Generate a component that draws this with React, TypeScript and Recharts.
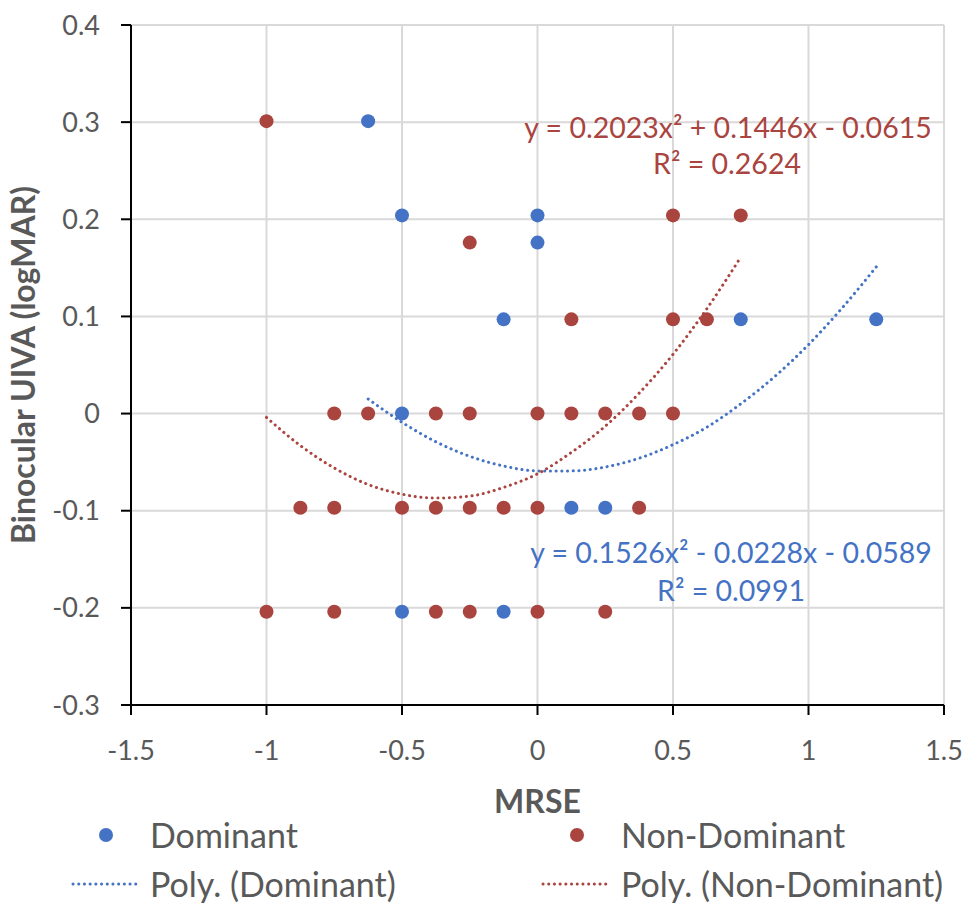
import { ScatterChart, Scatter, XAxis, YAxis, CartesianGrid, Label } from 'recharts'

// logMAR values come from Snellen steps (20/40, 20/32, 20/30, 20/25 ...)
const dominant = [
  { x: -0.625, y: 0.301 },
  { x: -0.5, y: 0.204 },
  { x: 0, y: 0.204 },
  { x: 0, y: 0.176 },
  { x: -0.125, y: 0.097 },
  { x: 0.75, y: 0.097 },
  { x: 1.25, y: 0.097 },
  { x: -0.5, y: 0 },
  { x: 0.125, y: -0.097 },
  { x: 0.25, y: -0.097 },
  { x: -0.5, y: -0.204 },
  { x: -0.125, y: -0.204 },
]

const nonDominant = [
  { x: -1, y: 0.301 },
  { x: -0.25, y: 0.176 },
  { x: 0.5, y: 0.204 },
  { x: 0.75, y: 0.204 },
  { x: 0.125, y: 0.097 },
  { x: 0.5, y: 0.097 },
  { x: 0.625, y: 0.097 },
  { x: -0.75, y: 0 },
  { x: -0.625, y: 0 },
  { x: -0.375, y: 0 },
  { x: -0.25, y: 0 },
  { x: 0, y: 0 },
  { x: 0.125, y: 0 },
  { x: 0.25, y: 0 },
  { x: 0.375, y: 0 },
  { x: 0.5, y: 0 },
  { x: -0.875, y: -0.097 },
  { x: -0.75, y: -0.097 },
  { x: -0.5, y: -0.097 },
  { x: -0.375, y: -0.097 },
  { x: -0.25, y: -0.097 },
  { x: -0.125, y: -0.097 },
  { x: 0, y: -0.097 },
  { x: 0.375, y: -0.097 },
  { x: -1, y: -0.204 },
  { x: -0.75, y: -0.204 },
  { x: -0.375, y: -0.204 },
  { x: -0.25, y: -0.204 },
  { x: 0, y: -0.204 },
  { x: 0.25, y: -0.204 },
]

// trendline points (match the printed equations)
const dominantTrend = [
  { x: -0.625, y: 0.015 },
  { x: -0.5, y: -0.009 },
  { x: -0.375, y: -0.029 },
  { x: -0.25, y: -0.044 },
  { x: -0.125, y: -0.054 },
  { x: 0, y: -0.059 },
  { x: 0.125, y: -0.059 },
  { x: 0.25, y: -0.055 },
  { x: 0.375, y: -0.046 },
  { x: 0.5, y: -0.032 },
  { x: 0.625, y: -0.014 },
  { x: 0.75, y: 0.01 },
  { x: 0.875, y: 0.038 },
  { x: 1, y: 0.071 },
  { x: 1.125, y: 0.109 },
  { x: 1.25, y: 0.151 },
]

const nonDominantTrend = [
  { x: -1, y: -0.004 },
  { x: -0.875, y: -0.033 },
  { x: -0.75, y: -0.056 },
  { x: -0.625, y: -0.073 },
  { x: -0.5, y: -0.083 },
  { x: -0.375, y: -0.087 },
  { x: -0.25, y: -0.085 },
  { x: -0.125, y: -0.076 },
  { x: 0, y: -0.062 },
  { x: 0.125, y: -0.04 },
  { x: 0.25, y: -0.013 },
  { x: 0.375, y: 0.021 },
  { x: 0.5, y: 0.061 },
  { x: 0.625, y: 0.108 },
  { x: 0.75, y: 0.161 },
]

const xTicks = [-1.5, -1, -0.5, 0, 0.5, 1, 1.5]
const yTicks = [-0.3, -0.2, -0.1, 0, 0.1, 0.2, 0.3, 0.4]

const BLUE = '#4472C4'
const RED = '#A9443F'
const TEXT = '#595959'
const FONT = 'Lato, sans-serif'

const dot = (color: string) => (props: any) => <circle cx={props.cx} cy={props.cy} r={7} fill={color} />
const noDot = () => <g />

const dotted = (color: string) => ({
  stroke: color,
  strokeWidth: 3,
  strokeDasharray: '0.1 5.6',
  strokeLinecap: 'round' as const,
})

function LegendRow({ top, left, marker, text }: { top: number; left: number; marker: any; text: string }) {
  return (
    <div style={{ position: 'absolute', top, left, height: 36, lineHeight: '36px', display: 'flex', alignItems: 'center', color: TEXT, fontSize: 34, whiteSpace: 'nowrap' }}>
      {marker}
      <span>{text}</span>
    </div>
  )
}

export default function App() {
  const eq = { position: 'absolute' as const, transform: 'translate(-50%, -50%)', fontSize: 28.5, whiteSpace: 'nowrap' as const }
  return (
    <div style={{ position: 'absolute', left: 0, top: 0, width: 966, height: 905, background: '#fff', fontFamily: FONT, overflow: 'hidden' }}>
      <ScatterChart width={966} height={905} margin={{ top: 25, right: 22, bottom: 0, left: 0 }}>
        <CartesianGrid stroke="#d9d9d9" strokeWidth={2} />
        <XAxis
          type="number"
          dataKey="x"
          domain={[-1.5, 1.5]}
          ticks={xTicks}
          height={200}
          tickSize={10}
          tickMargin={26}
          axisLine={{ stroke: '#000', strokeWidth: 2 }}
          tickLine={{ stroke: '#000', strokeWidth: 2 }}
          tick={{ fill: TEXT, fontSize: 27, fontFamily: FONT }}
          label={
            <Label
              content={({ viewBox }: any) => (
                <text x={viewBox.x + viewBox.width / 2} y={viewBox.y + 95} textAnchor="middle" dominantBaseline="central" fill={TEXT} fontSize={32} fontWeight="bold" fontFamily={FONT}>
                  MRSE
                </text>
              )}
            />
          }
        />
        <YAxis
          type="number"
          dataKey="y"
          domain={[-0.3, 0.4]}
          ticks={yTicks}
          width={131}
          tickSize={10}
          tickMargin={21}
          axisLine={{ stroke: '#000', strokeWidth: 2 }}
          tickLine={{ stroke: '#000', strokeWidth: 2 }}
          tick={{ fill: TEXT, fontSize: 27, fontFamily: FONT }}
          label={
            <Label
              content={({ viewBox }: any) => {
                const cy = viewBox.y + viewBox.height / 2
                return (
                  <text x={22} y={cy} transform={`rotate(-90, 22, ${cy})`} textAnchor="middle" dominantBaseline="central" fill={TEXT} fontSize={32} fontWeight="bold" fontFamily={FONT}>
                    Binocular UIVA (logMAR)
                  </text>
                )
              }}
            />
          }
        />
        <Scatter name="Dominant" data={dominant} fill={BLUE} shape={dot(BLUE)} isAnimationActive={false} />
        <Scatter name="Non-Dominant" data={nonDominant} fill={RED} shape={dot(RED)} isAnimationActive={false} />
        <Scatter name="Poly. (Dominant)" data={dominantTrend} fill={BLUE} shape={noDot} line={dotted(BLUE)} lineJointType="monotoneX" isAnimationActive={false} />
        <Scatter name="Poly. (Non-Dominant)" data={nonDominantTrend} fill={RED} shape={noDot} line={dotted(RED)} lineJointType="monotoneX" isAnimationActive={false} />
      </ScatterChart>

      <div style={{ ...eq, left: 728, top: 127, color: RED }}>y = 0.2023x² + 0.1446x - 0.0615</div>
      <div style={{ ...eq, left: 727, top: 163, color: RED }}>R² = 0.2624</div>
      <div style={{ ...eq, left: 731, top: 552, color: BLUE }}>y = 0.1526x² - 0.0228x - 0.0589</div>
      <div style={{ ...eq, left: 731, top: 590, color: BLUE }}>R² = 0.0991</div>

      <LegendRow top={817} left={99} text="Dominant" marker={<span style={{ width: 14, height: 14, borderRadius: 7, background: BLUE, marginRight: 37 }} />} />
      <LegendRow top={817} left={570} text="Non-Dominant" marker={<span style={{ width: 14, height: 14, borderRadius: 7, background: RED, marginRight: 37 }} />} />
      <LegendRow
        top={866}
        left={70}
        text="Poly. (Dominant)"
        marker={<svg width={80} height={6}><line x1={3} y1={3} x2={70} y2={3} {...dotted(BLUE)} /></svg>}
      />
      <LegendRow
        top={866}
        left={540}
        text="Poly. (Non-Dominant)"
        marker={<svg width={81} height={6}><line x1={3} y1={3} x2={69} y2={3} {...dotted(RED)} /></svg>}
      />
    </div>
  )
}
